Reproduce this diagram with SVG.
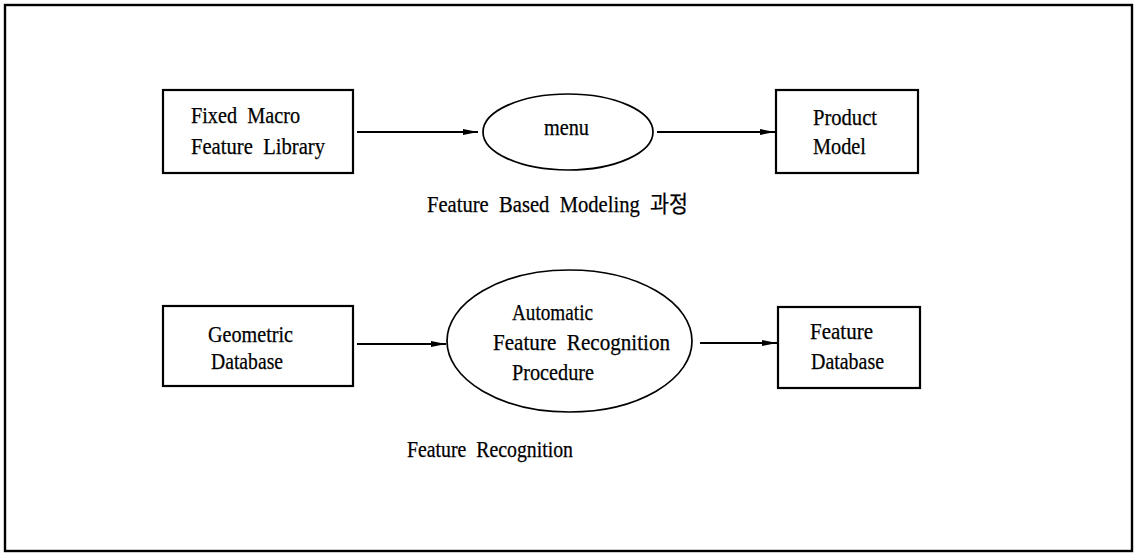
<svg xmlns="http://www.w3.org/2000/svg" width="1140" height="553" viewBox="0 0 1140 553">
  <style>
    .frame { fill: none; stroke: #000; stroke-width: 2.4; }
    .box { fill: #fff; stroke: #000; stroke-width: 2.2; }
    .oval { fill: #fff; stroke: #000; stroke-width: 1.7; }
    .edge { fill: none; stroke: #000; stroke-width: 1.9; }
    text { font-family: "Liberation Serif", "Noto Sans CJK KR", serif; font-size: 22.5px; fill: #000; stroke: #000; stroke-width: 0.25; }
  </style>
  <defs>
    <marker id="arrow" viewBox="0 0 15 8" refX="15" refY="4" markerWidth="15" markerHeight="8" markerUnits="userSpaceOnUse" orient="auto">
      <path d="M0,1 L15,4 L0,7 Z" fill="#000"/>
    </marker>
  </defs>

  <rect class="frame" x="5" y="5" width="1127" height="546"/>

  <!-- upper row: feature based modeling -->
  <g id="fixed-macro-library">
    <rect class="box" x="163" y="90" width="190" height="83"/>
    <text x="191" y="123" textLength="109" lengthAdjust="spacingAndGlyphs" xml:space="preserve">Fixed  Macro</text>
    <text x="191" y="154" textLength="134" lengthAdjust="spacingAndGlyphs" xml:space="preserve">Feature  Library</text>
  </g>
  <g id="menu">
    <ellipse class="oval" cx="568" cy="132" rx="85" ry="38"/>
    <text x="544" y="135" textLength="45" lengthAdjust="spacingAndGlyphs">menu</text>
  </g>
  <g id="product-model">
    <rect class="box" x="776" y="90" width="142" height="83"/>
    <text x="813" y="125" textLength="64" lengthAdjust="spacingAndGlyphs">Product</text>
    <text x="813" y="154" textLength="53" lengthAdjust="spacingAndGlyphs">Model</text>
  </g>
  <g id="caption-modeling">
    <text x="427" y="212" textLength="261" lengthAdjust="spacingAndGlyphs" xml:space="preserve">Feature  Based  Modeling  과정</text>
  </g>

  <!-- lower row: feature recognition -->
  <g id="geometric-database">
    <rect class="box" x="163" y="306" width="190" height="80"/>
    <text x="208" y="342" textLength="85" lengthAdjust="spacingAndGlyphs">Geometric</text>
    <text x="211" y="369" textLength="72" lengthAdjust="spacingAndGlyphs">Database</text>
  </g>
  <g id="recognition-procedure">
    <ellipse class="oval" cx="569.5" cy="341" rx="122.5" ry="71"/>
    <text x="512" y="320" textLength="81" lengthAdjust="spacingAndGlyphs">Automatic</text>
    <text x="493" y="350" textLength="177" lengthAdjust="spacingAndGlyphs" xml:space="preserve">Feature  Recognition</text>
    <text x="512" y="380" textLength="82" lengthAdjust="spacingAndGlyphs">Procedure</text>
  </g>
  <g id="feature-database">
    <rect class="box" x="778" y="307" width="142" height="81"/>
    <text x="810" y="339" textLength="63" lengthAdjust="spacingAndGlyphs">Feature</text>
    <text x="811" y="369" textLength="73" lengthAdjust="spacingAndGlyphs">Database</text>
  </g>
  <g id="caption-recognition">
    <text x="407" y="457" textLength="166" lengthAdjust="spacingAndGlyphs" xml:space="preserve">Feature  Recognition</text>
  </g>

  <g id="connectors">
    <line class="edge" x1="357" y1="132" x2="478" y2="132" marker-end="url(#arrow)"/>
    <line class="edge" x1="657" y1="132" x2="775" y2="132" marker-end="url(#arrow)"/>
    <line class="edge" x1="357" y1="344" x2="446" y2="344" marker-end="url(#arrow)"/>
    <line class="edge" x1="700" y1="343" x2="777" y2="343" marker-end="url(#arrow)"/>
  </g>
</svg>
